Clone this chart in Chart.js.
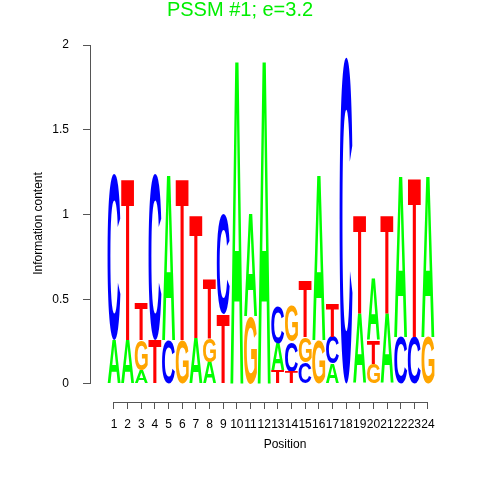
<!DOCTYPE html>
<html>
<head>
<meta charset="utf-8">
<title>PSSM #1 logo</title>
<script src="https://cdn.jsdelivr.net/npm/chart.js@4/dist/chart.umd.min.js"></script>
<style>
  body { margin: 0; background: #fff; }
  canvas { display: block; }
</style>
</head>
<body>
<canvas id="logoChart" width="480" height="480"></canvas>
<script>
// ----------- data -----------------------------------------------//
const positions = [1, 2, 3, 4, 5, 6, 7, 8, 9, 10, 11, 12, 13, 14, 15, 16, 17, 18, 19, 20, 21, 22, 23, 24];
const yTicks = [0, 0.5, 1, 1.5, 2];

// letter heights (bits) per position
const heightA = [0.26, 0.26, 0.08, 0, 0.98, 0, 0.27, 0.13, 0, 1.93, 0.61, 1.93, 0.16, 0, 0, 0.98, 0.12, 0, 0.42, 0.37, 0.42, 0.96, 0, 0.96];
const heightC = [0.98, 0, 0, 0.98, 0.26, 0, 0, 0, 0.59, 0, 0, 0, 0.22, 0.18, 0.13, 0, 0.16, 1.93, 0, 0, 0, 0.28, 0.28, 0];
const heightG = [0, 0, 0.18, 0, 0, 0.26, 0, 0.14, 0, 0, 0.40, 0, 0, 0.21, 0.15, 0.26, 0, 0, 0, 0.12, 0, 0, 0, 0.28];
const heightT = [0, 0.96, 0.22, 0.26, 0, 0.96, 0.73, 0.35, 0.41, 0, 0, 0, 0.08, 0.07, 0.34, 0, 0.20, 0, 0.58, 0.14, 0.58, 0, 0.94, 0];

const letters = ['A', 'C', 'G', 'T'];
const letterColors = { A: '#00ff00', C: '#0000ff', G: '#ffa500', T: '#ff0000' };
const heights = { A: heightA, C: heightC, G: heightG, T: heightT };

// smallest letter at the bottom, tallest on top -> floating [start, end] per letter
const ranges = { A: [], C: [], G: [], T: [] };
positions.forEach((p, i) => {
  const order = letters.slice().sort((a, b) => heights[a][i] - heights[b][i]);
  let acc = 0;
  order.forEach(l => {
    const h = heights[l][i];
    ranges[l][i] = { x: p, y: [acc, acc + h] };
    acc += h;
  });
});

// draws each letter stretched into its bar box
const logoLetters = {
  id: 'logoLetters',
  afterDatasetsDraw(chart) {
    const ctx = chart.ctx;
    chart.data.datasets.forEach((ds, di) => {
      const meta = chart.getDatasetMeta(di);
      meta.data.forEach(bar => {
        const { x, y, base, width } = bar.getProps(['x', 'y', 'base', 'width'], true);
        const top = Math.min(y, base);
        const h = Math.abs(base - y);
        if (h < 0.5) return;
        ctx.save();
        ctx.font = 'bold 100px "Liberation Sans", Arial, sans-serif';
        ctx.textAlign = 'left';
        ctx.textBaseline = 'alphabetic';
        const m = ctx.measureText(ds.label);
        const iw = m.actualBoundingBoxLeft + m.actualBoundingBoxRight;
        const ih = m.actualBoundingBoxAscent + m.actualBoundingBoxDescent;
        ctx.translate(x - width / 2, top);
        ctx.scale(width / iw, h / ih);
        ctx.fillStyle = letterColors[ds.label];
        ctx.fillText(ds.label, m.actualBoundingBoxLeft, m.actualBoundingBoxAscent);
        ctx.restore();
      });
    });
  }
};

// R-style axis lines that only span the tick range
const axisLines = {
  id: 'axisLines',
  afterDraw(chart) {
    const { ctx, chartArea, scales: { x, y } } = chart;
    ctx.save();
    ctx.strokeStyle = '#555';
    ctx.lineWidth = 1;
    ctx.beginPath();
    const xl = Math.round(chartArea.left) + 0.5;
    ctx.moveTo(xl, y.getPixelForValue(yTicks[0]));
    ctx.lineTo(xl, y.getPixelForValue(yTicks[yTicks.length - 1]));
    const yb = Math.round(chartArea.bottom) + 0.5;
    ctx.moveTo(x.getPixelForValue(positions[0]), yb);
    ctx.lineTo(x.getPixelForValue(positions[positions.length - 1]), yb);
    ctx.stroke();
    ctx.restore();
  }
};

const ctx = document.getElementById('logoChart').getContext('2d');

new Chart(ctx, {
  type: 'bar',
  data: {
    datasets: letters.map(l => ({
      label: l,
      data: ranges[l],
      backgroundColor: 'rgba(0,0,0,0)',
      borderWidth: 0,
      grouped: false,
      barPercentage: 0.95,
      categoryPercentage: 1
    }))
  },
  options: {
    responsive: false,
    animation: false,
    events: [],
    layout: { padding: 0 },
    plugins: {
      legend: { display: false },
      tooltip: { enabled: false },
      title: {
        display: true,
        text: 'PSSM #1; e=3.2',
        color: '#00ee00',
        font: { family: '"Liberation Sans", Arial, sans-serif', size: 20, weight: 'normal', lineHeight: 1 },
        padding: { top: 0, bottom: 25 }
      }
    },
    scales: {
      x: {
        type: 'linear',
        offset: false,
        min: -0.758,
        max: 27.81,
        afterBuildTicks: s => { s.ticks = positions.map(v => ({ value: v })); },
        afterFit: s => { s.height = 78; },
        ticks: {
          autoSkip: false,
          maxRotation: 0,
          padding: 8,
          color: '#000',
          font: { family: '"Liberation Sans", Arial, sans-serif', size: 12 },
          callback: v => String(v)
        },
        grid: { offset: false, drawOnChartArea: false, drawTicks: true, tickLength: 7, color: '#555' },
        border: { display: false },
        title: {
          display: true,
          text: 'Position',
          color: '#000',
          font: { family: '"Liberation Sans", Arial, sans-serif', size: 12 },
          padding: { top: 0, bottom: 28 }
        }
      },
      y: {
        min: -0.1062,
        max: 2,
        afterBuildTicks: s => { s.ticks = yTicks.map(v => ({ value: v })); },
        afterFit: s => { s.width = 90; },
        ticks: {
          padding: 14,
          color: '#000',
          font: { family: '"Liberation Sans", Arial, sans-serif', size: 12 },
          callback: v => String(v)
        },
        grid: { drawOnChartArea: false, drawTicks: true, tickLength: 7, color: '#555' },
        border: { display: false },
        title: {
          display: true,
          text: 'Information content',
          color: '#000',
          font: { family: '"Liberation Sans", Arial, sans-serif', size: 12 },
          padding: { top: 31, bottom: 0 }
        }
      }
    }
  },
  plugins: [logoLetters, axisLines]
});
</script>
</body>
</html>
